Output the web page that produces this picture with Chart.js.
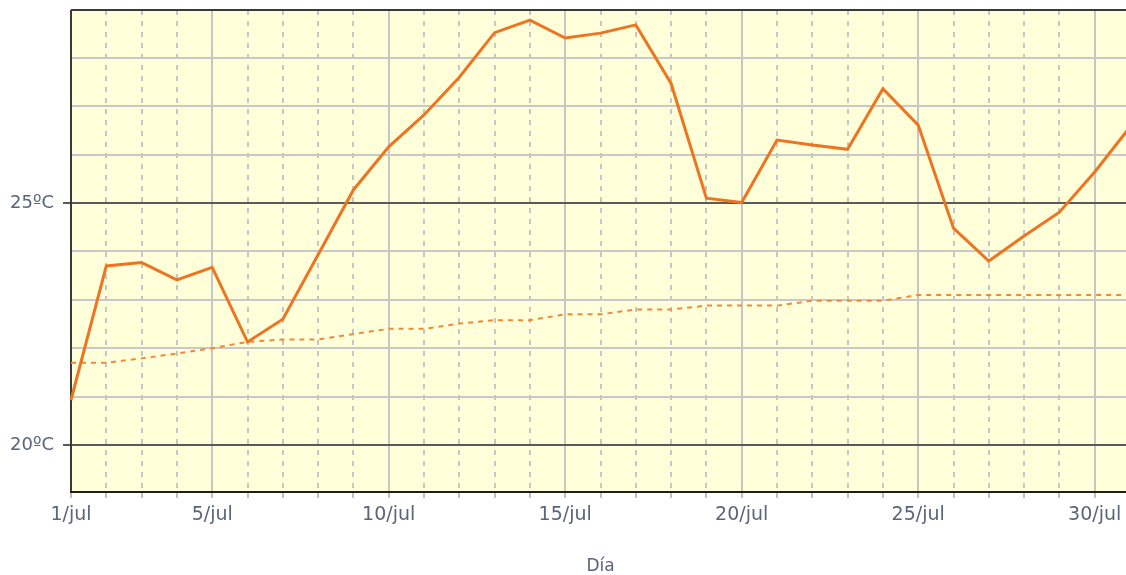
<!DOCTYPE html>
<html>
<head>
<meta charset="utf-8">
<script src="https://cdn.jsdelivr.net/npm/chart.js@4/dist/chart.umd.min.js"></script>
<style>
  html, body { margin: 0; padding: 0; overflow: hidden; background: #ffffff; }
  #wrap { position: absolute; left: 0; top: 0; width: 1131px; height: 575px; }
</style>
</head>
<body>
<div id="wrap"><canvas id="c"></canvas></div>
<script>
// ---- data ----
const days = ['1/jul','2/jul','3/jul','4/jul','5/jul','6/jul','7/jul','8/jul','9/jul','10/jul',
  '11/jul','12/jul','13/jul','14/jul','15/jul','16/jul','17/jul','18/jul','19/jul','20/jul',
  '21/jul','22/jul','23/jul','24/jul','25/jul','26/jul','27/jul','28/jul','29/jul','30/jul','31/jul'];
const shownDayLabels = ['1/jul','5/jul','10/jul','15/jul','20/jul','25/jul','30/jul'];
const tempDiaria = [20.93, 23.70, 23.77, 23.41, 23.67, 22.13, 22.60, 23.93, 25.27, 26.16,
  26.82, 27.60, 28.52, 28.78, 28.41, 28.51, 28.68, 27.47, 25.10, 25.01,
  26.30, 26.20, 26.11, 27.36, 26.61, 24.48, 23.80, 24.32, 24.81, 25.64, 26.57];
const tempMedia = [21.70, 21.70, 21.79, 21.89, 22.00, 22.13, 22.18, 22.18, 22.29, 22.40,
  22.40, 22.51, 22.58, 22.58, 22.70, 22.70, 22.80, 22.80, 22.88, 22.88,
  22.88, 22.98, 22.98, 22.98, 23.10, 23.10, 23.10, 23.10, 23.10, 23.10, 23.10];
const yTickValues = [20, 21, 22, 23, 24, 25, 26, 27, 28];
const yLabelValues = [20, 25];
const yUnit = 'ºC';
const xTitle = 'Día';

const textColor = '#59657a';
const fontFamily = '"DejaVu Sans", sans-serif';

const plotBg = {
  id: 'plotBg',
  beforeDraw(chart) {
    const {ctx, chartArea: a} = chart;
    ctx.save();
    ctx.fillStyle = '#FFFFDA';
    ctx.fillRect(a.left, a.top, a.right - a.left, a.bottom - a.top);
    ctx.restore();
  }
};
const frame = {
  id: 'frame',
  beforeDatasetsDraw(chart) {
    const {ctx, chartArea: a} = chart;
    ctx.save();
    ctx.lineWidth = 2;
    ctx.strokeStyle = '#3a3a3a';
    ctx.beginPath();
    ctx.moveTo(a.left, a.top); ctx.lineTo(a.right, a.top);
    ctx.stroke();
    ctx.beginPath();
    ctx.moveTo(a.left, a.top); ctx.lineTo(a.left, a.bottom);
    ctx.stroke();
    ctx.strokeStyle = '#1e1e1e';
    ctx.beginPath();
    ctx.moveTo(a.left - 1, a.bottom); ctx.lineTo(a.right, a.bottom);
    ctx.stroke();
    ctx.restore();
  }
};

new Chart(document.getElementById('c'), {
  type: 'line',
  data: {
    labels: days,
    datasets: [
      { label: 'Temperatura', data: tempDiaria, borderColor: '#EE7422', borderWidth: 3,
        pointRadius: 0, tension: 0, fill: false },
      { label: 'Media', data: tempMedia, borderColor: '#F2883A', borderWidth: 2,
        borderDash: [5, 5], pointRadius: 0, tension: 0, fill: false }
    ]
  },
  options: {
    responsive: true,
    maintainAspectRatio: false,
    animation: false,
    events: [],
    layout: { padding: { top: 10, right: 1, left: 0, bottom: 0 } },
    plugins: { legend: { display: false }, tooltip: { enabled: false } },
    scales: {
      x: {
        type: 'category',
        offset: false,
        grid: {
          color: '#c6c6c6',
          lineWidth: 2,
          drawTicks: true,
          tickLength: 6,
          tickColor: '#c0c0c0',
          tickWidth: 2
        },
        border: {
          display: false,
          dash: (ctx) => {
            const i = ctx.index;
            return (i === 0 || (i + 1) % 5 === 0) ? [] : [5, 6];
          }
        },
        ticks: {
          autoSkip: false,
          maxRotation: 0,
          minRotation: 0,
          padding: 6,
          color: textColor,
          font: { family: fontFamily, size: 19 },
          callback: function(value, index) {
            const lab = this.getLabelForValue(value);
            return shownDayLabels.includes(lab) ? lab : '';
          }
        },
        title: {
          display: true,
          text: xTitle,
          color: textColor,
          font: { family: fontFamily, size: 17 },
          padding: { top: 0, bottom: -2 }
        },
        afterFit(scale) { scale.height = 83; scale.paddingLeft = 0; scale.paddingRight = 0; }
      },
      y: {
        type: 'linear',
        min: 19.029,
        max: 28.988,
        afterBuildTicks(scale) { scale.ticks = yTickValues.map(v => ({ value: v })); },
        grid: {
          color: (ctx) => (ctx.tick && yLabelValues.includes(ctx.tick.value)) ? '#5a5a5a' : '#c8c8c8',
          lineWidth: 2,
          drawTicks: true,
          tickLength: 8,
          tickColor: (ctx) => (ctx.tick && yLabelValues.includes(ctx.tick.value)) ? '#5a5a5a' : 'rgba(0,0,0,0)',
          tickWidth: 2
        },
        border: { display: false },
        ticks: {
          padding: 9,
          color: textColor,
          font: { family: fontFamily, size: 18 },
          callback: (v) => yLabelValues.includes(v) ? v + yUnit : ''
        },
        afterFit(scale) { scale.width = 71; scale.paddingTop = 0; scale.paddingBottom = 0; }
      }
    }
  },
  plugins: [plotBg, frame]
});
</script>
</body>
</html>
